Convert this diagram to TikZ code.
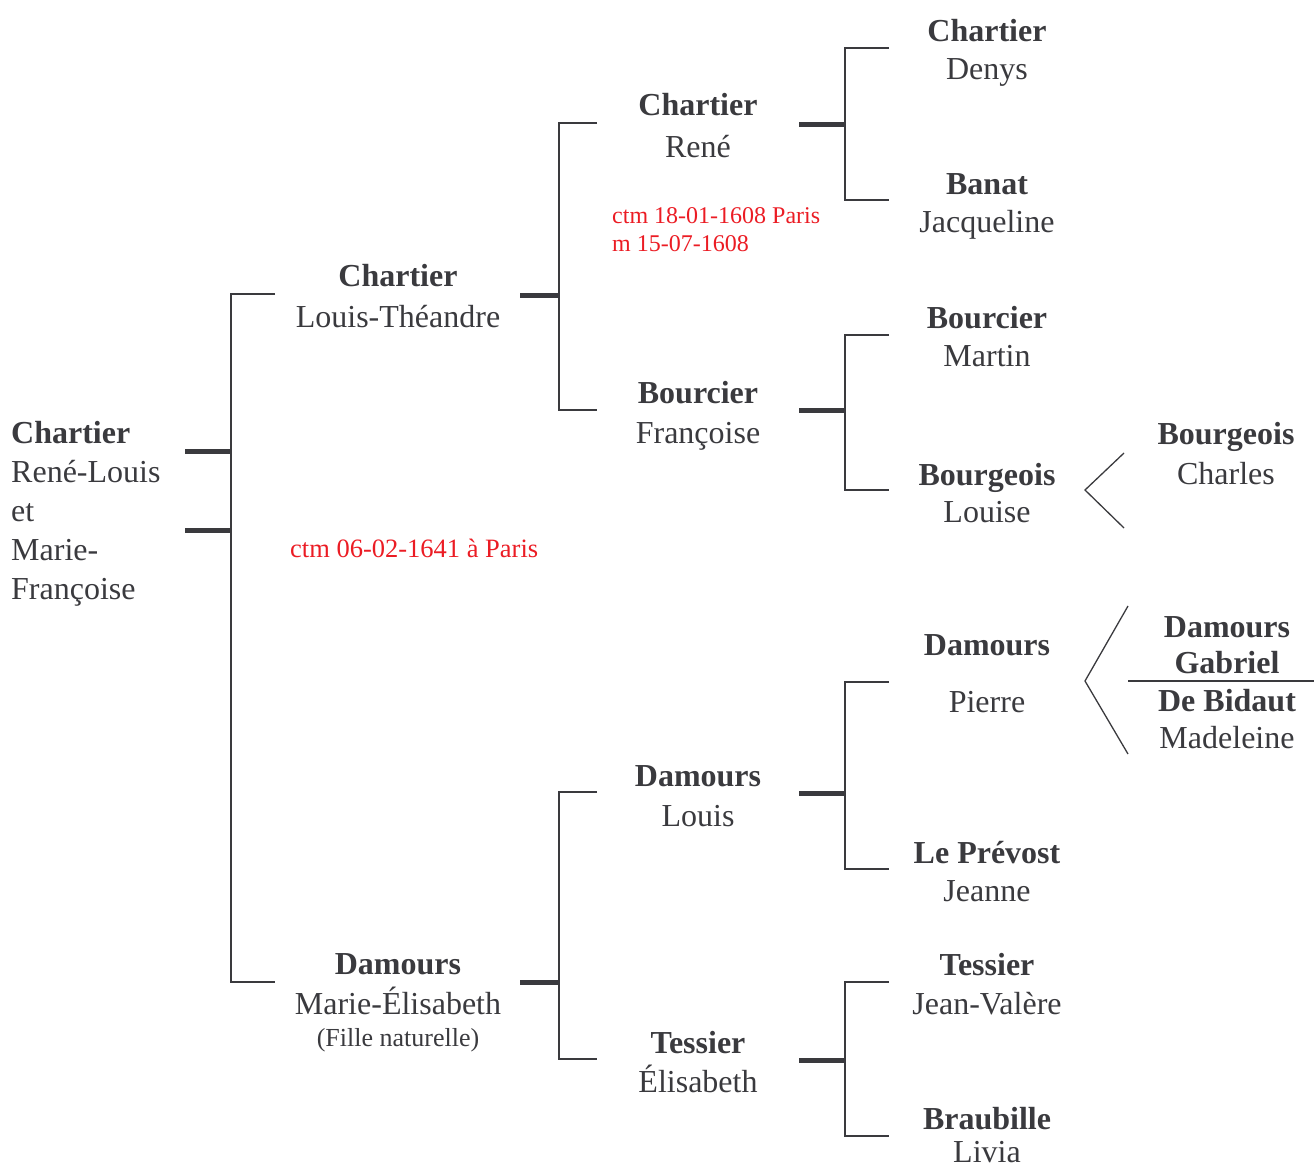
\documentclass[tikz,border=0pt]{standalone}
\usepackage{fontspec}
\setmainfont{Liberation Serif}
\definecolor{ink}{RGB}{58,58,62}
\definecolor{note}{RGB}{235,28,36}
\begin{document}
\begin{tikzpicture}[x=1pt,y=-1pt,
  given/.style={inner sep=0pt,anchor=base,text=ink,font=\fontsize{32}{38}\selectfont},
  sur/.style={given,font=\fontsize{32}{38}\selectfont\bfseries},
  lgiven/.style={given,anchor=base west},
  lsur/.style={sur,anchor=base west},
  small/.style={given,font=\fontsize{26}{30}\selectfont},
  rednote/.style={inner sep=0pt,anchor=base west,text=note,font=\fontsize{24}{28}\selectfont},
  rednoteb/.style={rednote,font=\fontsize{26.5}{30}\selectfont},
  thin/.style={draw=ink,line width=2.6pt},
  stub/.style={draw=ink,line width=5pt},
  chev/.style={draw=ink,line width=1.3pt},
  bar/.style={draw=ink,line width=2pt}]
\useasboundingbox (0,0) rectangle (1314,1167);

% ---------- generation 1 ----------
\node[lsur]   (g1a) at (11,443) {Chartier};
\node[lgiven] (g1b) at (11,482) {René-Louis};
\node[lgiven] (g1c) at (11,521) {et};
\node[lgiven] (g1d) at (11,560) {Marie-};
\node[lgiven] (g1e) at (11,599) {Françoise};

% ---------- generation 2 ----------
\node[sur]   (lt-s) at (398,286) {Chartier};
\node[given] (lt-g) at (398,327) {Louis-Théandre};
\node[sur]   (me-s) at (398,974) {Damours};
\node[given] (me-g) at (398,1014) {Marie-Élisabeth};
\node[small] (me-n) at (398,1046) {(Fille naturelle)};
\node[rednoteb] (n1) at (290,557) {ctm 06-02-1641 à Paris};

% ---------- generation 3 ----------
\node[sur]   (re-s) at (698,115) {Chartier};
\node[given] (re-g) at (698,157) {René};
\node[sur]   (fr-s) at (698,403) {Bourcier};
\node[given] (fr-g) at (698,443) {Françoise};
\node[sur]   (lo-s) at (698,786) {Damours};
\node[given] (lo-g) at (698,826) {Louis};
\node[sur]   (el-s) at (698,1053) {Tessier};
\node[given] (el-g) at (698,1092) {Élisabeth};
\node[rednote] (n2) at (612,223) {ctm 18-01-1608 Paris};
\node[rednote] (n3) at (612,251) {m 15-07-1608};

% ---------- generation 4 ----------
\node[sur]   (de-s) at (987,41) {Chartier};
\node[given] (de-g) at (987,79) {Denys};
\node[sur]   (ja-s) at (987,194) {Banat};
\node[given] (ja-g) at (987,232) {Jacqueline};
\node[sur]   (ma-s) at (987,328) {Bourcier};
\node[given] (ma-g) at (987,366) {Martin};
\node[sur]   (lu-s) at (987,485) {Bourgeois};
\node[given] (lu-g) at (987,522) {Louise};
\node[sur]   (pi-s) at (987,655) {Damours};
\node[given] (pi-g) at (987,712) {Pierre};
\node[sur]   (je-s) at (987,863) {Le Prévost};
\node[given] (je-g) at (987,901) {Jeanne};
\node[sur]   (jv-s) at (987,975) {Tessier};
\node[given] (jv-g) at (987,1014) {Jean-Valère};
\node[sur]   (li-s) at (987,1129) {Braubille};
\node[given] (li-g) at (987,1162) {Livia};

% ---------- generation 5 ----------
\node[sur]   (ch-s) at (1226,444) {Bourgeois};
\node[given] (ch-g) at (1226,484) {Charles};
\node[sur]   (ga-s) at (1227,637) {Damours};
\node[sur]   (ga-g) at (1227,673) {Gabriel};
\node[sur]   (md-s) at (1227,711) {De Bidaut};
\node[given] (md-g) at (1227,748) {Madeleine};

% ---------- bracket points ----------
\coordinate (a1) at (275,294);  \coordinate (a2) at (231,294);
\coordinate (a3) at (231,982);  \coordinate (a4) at (275,982);
\coordinate (s1a) at (185,451); \coordinate (s1b) at (231,451);
\coordinate (s2a) at (185,530); \coordinate (s2b) at (231,530);

\coordinate (b1) at (597,123);  \coordinate (b2) at (559,123);
\coordinate (b3) at (559,410);  \coordinate (b4) at (597,410);
\coordinate (bs1) at (520,295); \coordinate (bs2) at (559,295);

\coordinate (c1) at (597,792);  \coordinate (c2) at (559,792);
\coordinate (c3) at (559,1059); \coordinate (c4) at (597,1059);
\coordinate (cs1) at (520,982); \coordinate (cs2) at (559,982);

\coordinate (d1) at (889,48);   \coordinate (d2) at (845,48);
\coordinate (d3) at (845,200);  \coordinate (d4) at (889,200);
\coordinate (ds1) at (799,124); \coordinate (ds2) at (845,124);

\coordinate (e1) at (889,335);  \coordinate (e2) at (845,335);
\coordinate (e3) at (845,490);  \coordinate (e4) at (889,490);
\coordinate (es1) at (799,410); \coordinate (es2) at (845,410);

\coordinate (f1) at (889,682);  \coordinate (f2) at (845,682);
\coordinate (f3) at (845,869);  \coordinate (f4) at (889,869);
\coordinate (fs1) at (799,793); \coordinate (fs2) at (845,793);

\coordinate (h1) at (889,982);  \coordinate (h2) at (845,982);
\coordinate (h3) at (845,1136); \coordinate (h4) at (889,1136);
\coordinate (hs1) at (799,1060);\coordinate (hs2) at (845,1060);

\coordinate (k1) at (1124,453); \coordinate (k2) at (1085,490); \coordinate (k3) at (1124,528);
\coordinate (m1) at (1128,606); \coordinate (m2) at (1085,681); \coordinate (m3) at (1128,754);
\coordinate (p1) at (1128,681); \coordinate (p2) at (1314,681);

% ---------- brackets ----------
\draw[thin] (a1) -- (a2) -- (a3) -- (a4);
\draw[stub] (s1a) -- (s1b);
\draw[stub] (s2a) -- (s2b);

\draw[thin] (b1) -- (b2) -- (b3) -- (b4);
\draw[stub] (bs1) -- (bs2);
\draw[thin] (c1) -- (c2) -- (c3) -- (c4);
\draw[stub] (cs1) -- (cs2);

\draw[thin] (d1) -- (d2) -- (d3) -- (d4);
\draw[stub] (ds1) -- (ds2);
\draw[thin] (e1) -- (e2) -- (e3) -- (e4);
\draw[stub] (es1) -- (es2);
\draw[thin] (f1) -- (f2) -- (f3) -- (f4);
\draw[stub] (fs1) -- (fs2);
\draw[thin] (h1) -- (h2) -- (h3) -- (h4);
\draw[stub] (hs1) -- (hs2);

\draw[chev] (k1) -- (k2) -- (k3);
\draw[chev] (m1) -- (m2) -- (m3);
\draw[bar] (p1) -- (p2);
\end{tikzpicture}
\end{document}
